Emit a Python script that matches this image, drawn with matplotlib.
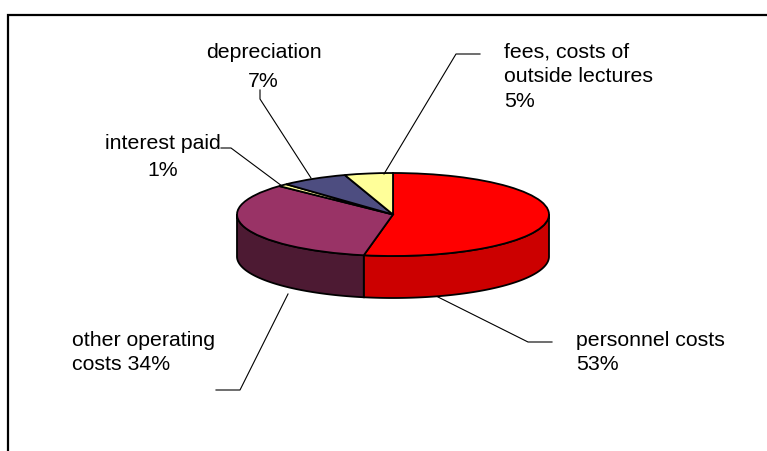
import numpy as np
import matplotlib
matplotlib.use("Agg")
import matplotlib.pyplot as plt

values = [53, 34, 1, 7, 5]
top_colors = ["#FF0000", "#993366", "#FFFF99", "#4D4D80", "#FFFF99"]
side_colors = ["#CC0000", "#4D1A33", "#80804D", "#26264D", "#80804D"]
labels = ["personnel costs\n53%", "other operating\ncosts 34%", "interest paid\n1%",
          "depreciation\n7%", "fees, costs of\noutside lectures\n5%"]

W, H = 767, 451
plt.rcParams["font.family"] = ["Liberation Sans", "DejaVu Sans"]
fig = plt.figure(figsize=(W / 100, H / 100), dpi=100, facecolor="white")

# page layer in pixel coordinates
page = fig.add_axes([0, 0, 1, 1], zorder=3)
page.set_xlim(0, W); page.set_ylim(H, 0); page.axis("off"); page.patch.set_alpha(0)

# frame
page.plot([8, 8, W + 2], [H + 2, 14.5, 14.5], color="black", lw=1.6, solid_joinstyle="miter", clip_on=False)

# pie: elliptical top face
cx, cy, rx, ry, depth = 393, 214.5, 156, 41.5, 42
ax = fig.add_axes([(cx - rx) / W, 1 - (cy + ry) / H, 2 * rx / W, 2 * ry / H], zorder=2)
wedges, _ = ax.pie(values, colors=top_colors, startangle=90, counterclock=False, radius=1,
                   wedgeprops=dict(edgecolor="black", linewidth=1.3, zorder=5))
ax.set_aspect("auto")
ax.set_xlim(-1, 1); ax.set_ylim(-1, 1)
ax.axis("off")

# side wall
d = depth / ry
for w, c in zip(wedges, side_colors):
    lo2, hi2 = max(w.theta1, -180), min(w.theta2, 0)
    if hi2 <= lo2:
        continue
    t = np.radians(np.linspace(lo2, hi2, 120))
    xs = np.r_[np.cos(t), np.cos(t[::-1])]
    ys = np.r_[np.sin(t), np.sin(t[::-1]) - d]
    ax.fill(xs, ys, facecolor=c, edgecolor="black", linewidth=1.3, zorder=1, clip_on=False)
for w in wedges:
    w.set_clip_on(False)

# leader lines
leaders = [
    ([552, 528, 438], [342, 342, 297]),
    ([216, 240, 288], [390, 390, 294]),
    ([221, 231, 282], [148, 148, 186]),
    ([260, 260, 311], [90, 99, 178]),
    ([480, 456, 384], [54, 54, 174]),
]
for xs, ys in leaders:
    page.plot(xs, ys, color="black", lw=0.8, solid_joinstyle="miter")

# labels
fs = 15.3
def lines(x, ys, txts, ha):
    for y, t in zip(ys, txts):
        page.text(x, y, t, ha=ha, va="baseline", fontsize=fs, color="black")

lines(576, [346, 370], labels[0].split("\n"), "left")
lines(72, [346, 370], labels[1].split("\n"), "left")
lines(163, [149, 176], labels[2].split("\n"), "center")
lines(263.5, [58, 87], labels[3].split("\n"), "center")
lines(504, [58, 82.5, 107], labels[4].split("\n"), "left")

fig.savefig("out.png", dpi=100, facecolor="white")
